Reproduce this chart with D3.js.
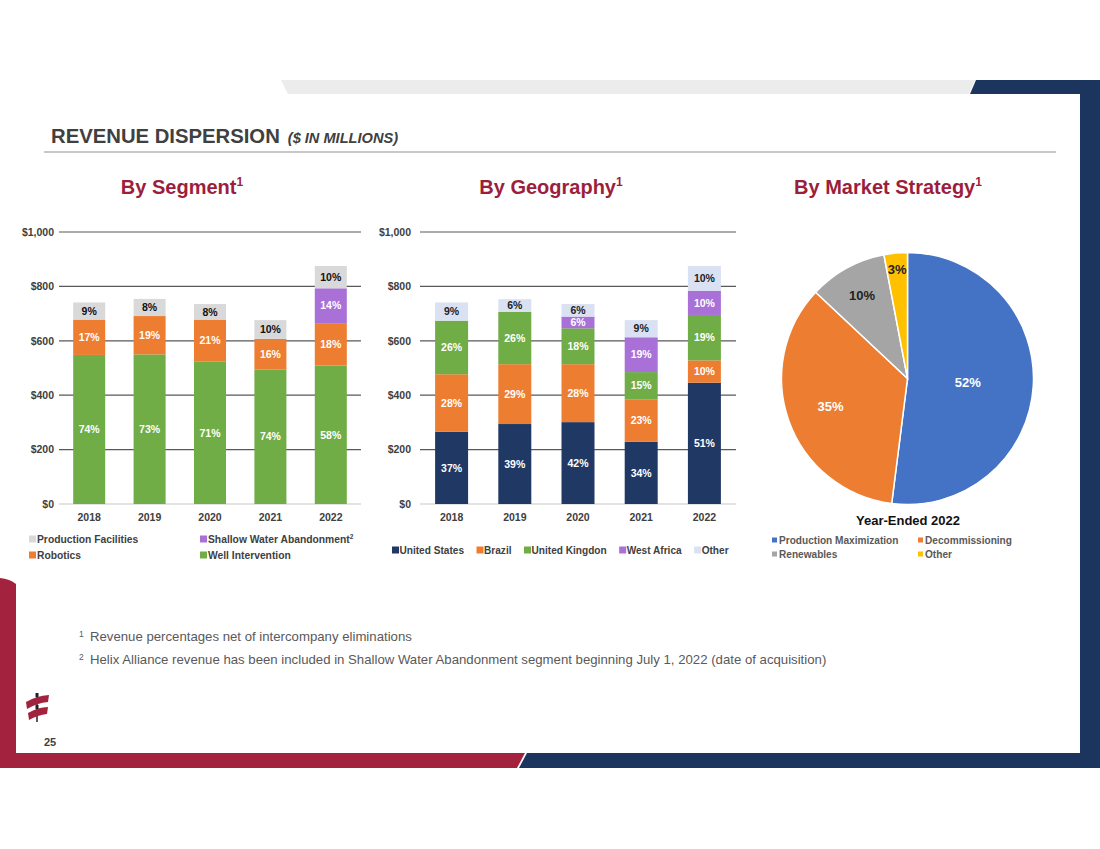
<!DOCTYPE html>
<html>
  <head>
    <meta charset=utf-8>
    <title>Revenue Dispersion</title>
    <style>
      body{ margin:0; background:#fff; }
      text{ font-family:"Liberation Sans", Arial, sans-serif; }
    </style>
  </head>
  <body>
    <script src="https://cdn.jsdelivr.net/npm/d3@7"></script>
    <script>
      // ---- data ($ millions) ----
      var years = ["2018", "2019", "2020", "2021", "2022"];
      var yTicks = [0, 200, 400, 600, 800, 1000];

      // by segment
      var wellIntervention     = [548, 550, 523, 495, 509];
      var robotics             = [130, 141, 155, 112, 156];
      var shallowWater         = [0, 0, 0, 0, 128];
      var productionFacilities = [63, 63, 57, 69, 82];
      var wellPct   = ["74%", "73%", "71%", "74%", "58%"];
      var roboPct   = ["17%", "19%", "21%", "16%", "18%"];
      var shallowPct= ["", "", "", "", "14%"];
      var prodPct   = ["9%", "8%", "8%", "10%", "10%"];

      // by geography
      var unitedStates  = [266, 294, 301, 229, 446];
      var brazil        = [211, 220, 213, 156, 82];
      var unitedKingdom = [197, 193, 132, 100, 167];
      var westAfrica    = [0, 0, 43, 128, 89];
      var otherGeo      = [67, 46, 46, 63, 91];
      var usPct     = ["37%", "39%", "42%", "34%", "51%"];
      var brazilPct = ["28%", "29%", "28%", "23%", "10%"];
      var ukPct     = ["26%", "26%", "18%", "15%", "19%"];
      var waPct     = ["", "", "6%", "19%", "10%"];
      var otherPct  = ["9%", "6%", "6%", "9%", "10%"];

      // by market strategy (2022)
      var marketNames  = ["Production Maximization", "Decommissioning", "Renewables", "Other"];
      var marketValues = [52, 35, 10, 3];

      var W = 1100, H = 849;
      var svg = d3.select("body").append("svg")
        .attr("width", W).attr("height", H);

      // ---- slide frame ----
      var crimson = "#a3223e", navy = "#1c355e";
      svg.append("polygon").attr("points", "281,80 975,80 969,94 288,94").attr("fill", "#ececec");
      svg.append("polygon").attr("points", "976,80 1100,80 1100,94 970,94").attr("fill", navy);
      svg.append("rect").attr("x", 1080).attr("y", 80).attr("width", 20).attr("height", 688).attr("fill", navy);
      svg.append("path").attr("d", "M0,578 Q10,579 16,584 L16,768 L0,768 Z").attr("fill", crimson);
      svg.append("polygon").attr("points", "0,753 525,753 517,768 0,768").attr("fill", crimson);
      svg.append("polygon").attr("points", "527,753 1100,753 1100,768 519,768").attr("fill", navy);

      // logo
      var logo = svg.append("g");
      logo.append("line").attr("x1", 37).attr("x2", 37).attr("y1", 693).attr("y2", 722)
        .attr("stroke", "#222").attr("stroke-width", 1.5);
      logo.append("path").attr("d", "M26,702 Q36,696 49,695 L48,702 Q37,703 27,709 Z").attr("fill", crimson);
      logo.append("path").attr("d", "M28,713 Q38,707 48,707 L47,714 Q38,715 29,720 Z").attr("fill", crimson);
      logo.append("rect").attr("x", 35.5).attr("y", 693).attr("width", 3).attr("height", 4).attr("fill", "#222");
      logo.append("rect").attr("x", 35.5).attr("y", 705).attr("width", 3).attr("height", 4).attr("fill", "#222");

      svg.append("text").attr("x", 50).attr("y", 746).attr("text-anchor", "middle")
        .style("font-size", "11px").style("font-weight", "bold").attr("fill", "#404040").text("25");

      // ---- title ----
      var title = svg.append("text").attr("x", 51).attr("y", 143).attr("fill", "#404040")
        .style("font-weight", "bold");
      title.append("tspan").style("font-size", "20.3px").text("REVENUE DISPERSION");
      title.append("tspan").attr("dx", 8).style("font-size", "14.6px").style("font-style", "italic")
        .text("($ IN MILLIONS)");
      svg.append("line").attr("x1", 44).attr("x2", 1056).attr("y1", 152).attr("y2", 152)
        .attr("stroke", "#c8c8c8").attr("stroke-width", 2);

      function subtitle(x, label) {
        var t = svg.append("text").attr("x", x).attr("y", 194).attr("text-anchor", "middle")
          .attr("fill", "#9c1e3c").style("font-weight", "bold").style("font-size", "20px");
        t.append("tspan").text(label);
        t.append("tspan").attr("dy", -8).style("font-size", "12px").text("1");
      }
      subtitle(182, "By Segment");
      subtitle(551, "By Geography");
      subtitle(888, "By Market Strategy");

      // ---- stacked bar helper ----
      function stackedChart(opt) {
        var g = svg.append("g");
        var x = d3.scaleBand().domain(years).range([opt.x0, opt.x1])
          .paddingInner(opt.pad).paddingOuter(opt.pad / 2);
        var y = d3.scaleLinear().domain([0, 1000]).range([504, 232]);

        g.selectAll(".grid").data(yTicks).enter().append("line")
          .attr("x1", opt.x0).attr("x2", opt.x1)
          .attr("y1", function(d) { return y(d); }).attr("y2", function(d) { return y(d); })
          .attr("stroke", function(d) { return d === 0 ? "#c8c8c8" : "#595959"; })
          .attr("stroke-width", 1.2);

        var yAxis = d3.axisLeft(y).tickValues(yTicks).tickSize(0).tickPadding(0)
          .tickFormat(function(d) { return "$" + d3.format(",")(d); });
        var ya = g.append("g").attr("transform", "translate(" + opt.yLabelX + ",0)").call(yAxis);
        ya.select(".domain").remove();
        ya.selectAll("text").attr("fill", "#404040").style("font-size", "10.5px")
          .style("font-weight", "bold").style("font-family", "Liberation Sans, Arial, sans-serif");

        var xAxis = d3.axisBottom(x).tickSize(0).tickPadding(0);
        var xa = g.append("g").attr("transform", "translate(0,514)").call(xAxis);
        xa.select(".domain").remove();
        xa.selectAll("text").attr("fill", "#404040").style("font-size", "10.5px")
          .style("font-weight", "bold").style("font-family", "Liberation Sans, Arial, sans-serif");

        var table = years.map(function(yr, i) {
          var row = { year: yr };
          opt.series.forEach(function(s) { row[s.key] = s.values[i]; });
          return row;
        });
        var stack = d3.stack().keys(opt.series.map(function(s) { return s.key; }))(table);

        stack.forEach(function(layer, li) {
          var s = opt.series[li];
          var lg = g.append("g");
          lg.selectAll("rect").data(layer).enter().append("rect")
            .attr("x", function(d) { return x(d.data.year); })
            .attr("width", x.bandwidth())
            .attr("y", function(d) { return y(d[1]); })
            .attr("height", function(d) { return y(d[0]) - y(d[1]); })
            .attr("fill", s.color);
          lg.selectAll("text").data(layer).enter().append("text")
            .attr("x", function(d) { return x(d.data.year) + x.bandwidth() / 2; })
            .attr("y", function(d) { return (y(d[0]) + y(d[1])) / 2; })
            .attr("dy", "0.36em").attr("text-anchor", "middle")
            .attr("fill", s.textColor).style("font-size", "10.5px").style("font-weight", "bold")
            .text(function(d, i) { return s.labels[i]; });
        });
      }

      var green = "#70ad47", orange = "#ed7d31", purple = "#a970d8";

      stackedChart({
        x0: 59, x1: 361, pad: 0.47, yLabelX: 54,
        series: [
          { key: "well", values: wellIntervention, labels: wellPct, color: green, textColor: "#fff" },
          { key: "robo", values: robotics, labels: roboPct, color: orange, textColor: "#fff" },
          { key: "shallow", values: shallowWater, labels: shallowPct, color: purple, textColor: "#fff" },
          { key: "prod", values: productionFacilities, labels: prodPct, color: "#d9d9d9", textColor: "#111" }
        ]
      });

      stackedChart({
        x0: 420, x1: 736, pad: 0.478, yLabelX: 411,
        series: [
          { key: "us", values: unitedStates, labels: usPct, color: "#1f3864", textColor: "#fff" },
          { key: "br", values: brazil, labels: brazilPct, color: orange, textColor: "#fff" },
          { key: "uk", values: unitedKingdom, labels: ukPct, color: green, textColor: "#fff" },
          { key: "wa", values: westAfrica, labels: waPct, color: purple, textColor: "#fff" },
          { key: "other", values: otherGeo, labels: otherPct, color: "#d9e1f2", textColor: "#222" }
        ]
      });

      // ---- legends ----
      function legendItem(x, y, size, gap, color, label, sup, fontSize, textColor) {
        svg.append("rect").attr("x", x).attr("y", y - size / 2).attr("width", size).attr("height", size)
          .attr("fill", color);
        var t = svg.append("text").attr("x", x + size + gap).attr("y", y).attr("dy", "0.36em")
          .attr("fill", textColor).style("font-size", fontSize).style("font-weight", "bold");
        t.append("tspan").text(label);
        if (sup) t.append("tspan").attr("dy", -4).style("font-size", "6.5px").text(sup);
        return t;
      }
      legendItem(29, 539, 7, 1, "#d9d9d9", "Production Facilities", null, "10.3px", "#404040");
      legendItem(200, 539, 7, 1, purple, "Shallow Water Abandonment", "2", "10.3px", "#404040");
      legendItem(29, 555, 7, 1, orange, "Robotics", null, "10.3px", "#404040");
      legendItem(200, 555, 7, 1, green, "Well Intervention", null, "10.3px", "#404040");

      var geoLegend = [
        { name: "United States", color: "#1f3864" },
        { name: "Brazil", color: orange },
        { name: "United Kingdon", color: green },
        { name: "West Africa", color: purple },
        { name: "Other", color: "#d9e1f2" }
      ];
      var lx = 392;
      geoLegend.forEach(function(d) {
        var t = legendItem(lx, 550, 7, 0.5, d.color, d.name, null, "10.1px", "#404040");
        lx += 7.5 + t.node().getComputedTextLength() + 12.5;
      });

      // ---- pie ----
      var pieColors = ["#4472c4", "#ed7d31", "#a5a5a5", "#ffc000"];
      var pieText = ["#fff", "#fff", "#222", "#222"];
      var pieLabelR = [0.48, 0.65, 0.75, 0.87];
      var cx = 907.5, cy = 378.5, r = 126;
      var pg = svg.append("g").attr("transform", "translate(" + cx + "," + cy + ")");
      var arcs = d3.pie().sort(null).value(function(d) { return d; })(marketValues);
      var arc = d3.arc().innerRadius(0).outerRadius(r);
      pg.selectAll("path").data(arcs).enter().append("path")
        .attr("d", arc).attr("fill", function(d, i) { return pieColors[i]; })
        .attr("stroke", "#fff").attr("stroke-width", 1.5);
      pg.selectAll("text").data(arcs).enter().append("text")
        .attr("transform", function(d, i) {
          var k = r * pieLabelR[i];
          return "translate(" + d3.arc().innerRadius(k).outerRadius(k).centroid(d) + ")";
        })
        .attr("text-anchor", "middle").attr("dy", "0.36em")
        .attr("fill", function(d, i) { return pieText[i]; })
        .style("font-size", "13px").style("font-weight", "bold")
        .text(function(d) { return d.data + "%"; });

      svg.append("text").attr("x", 908).attr("y", 525).attr("text-anchor", "middle")
        .attr("fill", "#111").style("font-size", "13px").style("font-weight", "bold").text("Year-Ended 2022");

      legendItem(772, 540, 5, 2, pieColors[0], marketNames[0], null, "10.1px", "#595959");
      legendItem(918, 540, 5, 2, pieColors[1], marketNames[1], null, "10.1px", "#595959");
      legendItem(772, 554, 5, 2, pieColors[2], marketNames[2], null, "10.1px", "#595959");
      legendItem(918, 554, 5, 2, pieColors[3], marketNames[3], null, "10.1px", "#595959");

      // ---- footnotes ----
      var notes = [
        "Revenue percentages net of intercompany eliminations",
        "Helix Alliance revenue has been included in Shallow Water Abandonment segment beginning July 1, 2022 (date of acquisition)"
      ];
      notes.forEach(function(n, i) {
        var yy = 641 + i * 23;
        svg.append("text").attr("x", 79).attr("y", yy - 4).attr("fill", "#595959")
          .style("font-size", "8.5px").text(i + 1);
        svg.append("text").attr("x", 90).attr("y", yy).attr("fill", "#595959")
          .style("font-size", "13.2px").text(n);
      });
    </script>
  </body>
</html>
